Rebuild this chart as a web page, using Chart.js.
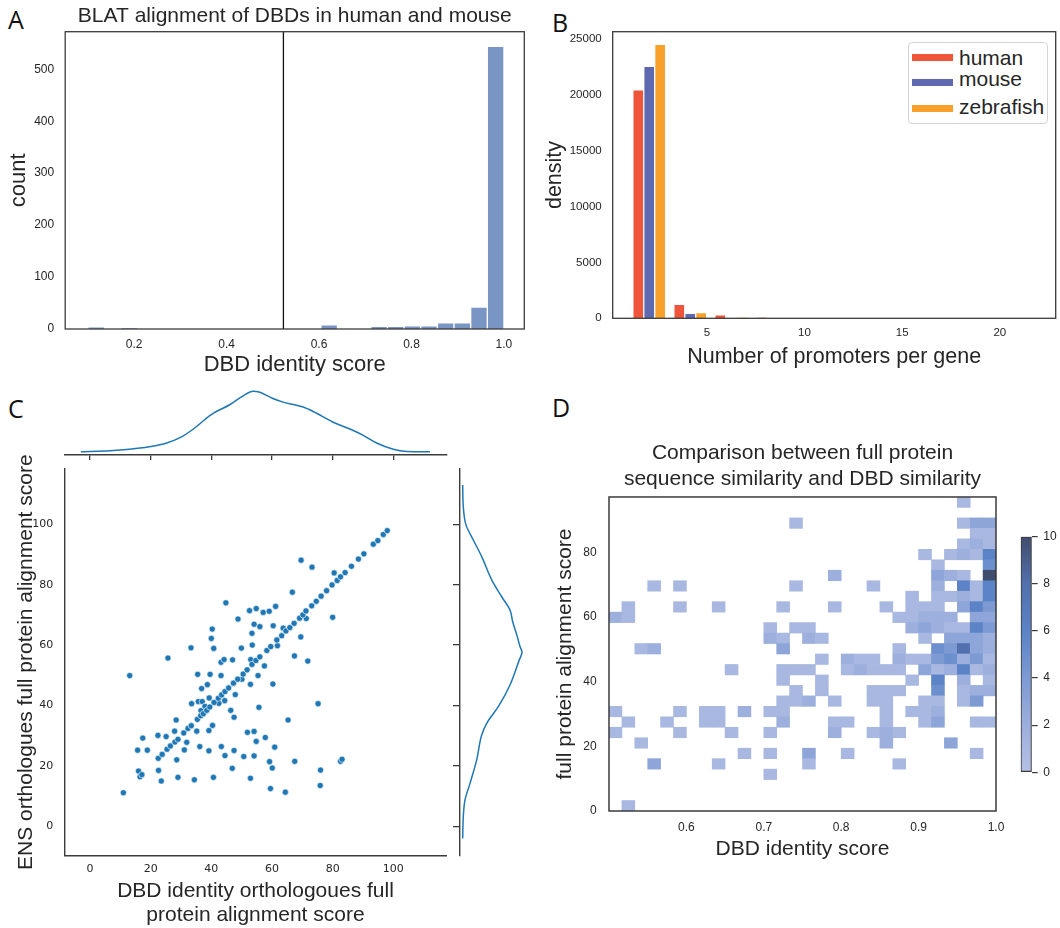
<!DOCTYPE html>
<html>
<head>
<meta charset="utf-8">
<script src="https://cdn.jsdelivr.net/npm/chart.js@4.4.1/dist/chart.umd.min.js"></script>
<style>
  body { margin: 0; background: #fff; }
  #page { position: relative; width: 1060px; height: 928px; overflow: hidden;
          font-family: 'Liberation Sans', Arial, sans-serif; color: #262626; }
  .box { position: absolute; }
  .letter { position: absolute; font-family: 'Open Sans', 'Noto Sans', sans-serif;
            font-size: 25px; line-height: 1; color: #111; }
  #legendB { position: absolute; left: 908px; top: 42px; width: 140px; height: 82px;
             border: 1px solid #d4d4d4; border-radius: 4px; background: #fff; box-sizing: border-box; }
  #legendB .handle { position: absolute; left: 3px; width: 41px; height: 7px; }
  #legendB .name { position: absolute; left: 50px; font-size: 21px; line-height: 21px; white-space: nowrap; }
</style>
</head>
<body>
<div id="page">
  <div class="letter" style="left:8px;top:7px">A</div>
  <div class="letter" style="left:552px;top:10px">B</div>
  <div class="letter" style="left:8px;top:396px">C</div>
  <div class="letter" style="left:552px;top:395px">D</div>

  <div class="box" style="left:0;top:0"><canvas id="chartA" width="540" height="385"></canvas></div>
  <div class="box" style="left:540px;top:0"><canvas id="chartB" width="520" height="385"></canvas></div>
  <div id="legendB"></div>

  <div class="box" style="left:0;top:380px"><canvas id="chartCtop" width="455" height="80"></canvas></div>
  <div class="box" style="left:0;top:436px"><canvas id="chartC" width="455" height="492"></canvas></div>
  <div class="box" style="left:453px;top:460px"><canvas id="chartCright" width="82" height="400"></canvas></div>

  <div class="box" style="left:540px;top:390px"><canvas id="chartD" width="470" height="480"></canvas></div>
  <div class="box" style="left:1010px;top:520px"><canvas id="chartDbar" width="50" height="270"></canvas></div>
</div>

<script>
// ---- A: BLAT identity histogram ----
const blatBinStart = 0.1;
const blatBinWidth = 0.036;
const blatCounts = [4, 0, 2, 0, 0, 0, 0, 0, 0, 0, 0, 0, 0, 0, 8, 0, 0, 5, 5, 6, 6, 12, 12, 42, 544];
const blatThreshold = 0.523;
const blatTicksX = [0.2, 0.4, 0.6, 0.8, 1.0];
const blatTicksY = [0, 100, 200, 300, 400, 500];

// ---- B: promoters per gene ----
const species = ['human', 'mouse', 'zebrafish'];
const promoterEdges = [1, 3.1, 5.2, 7.3, 9.4, 11.5, 13.6, 15.7, 17.8, 19.9, 22];
const promHuman = [20400, 1190, 240, 40, 10, 5, 3, 0, 0, 2];
const promMouse = [22500, 390, 30, 10, 5, 2, 0, 0, 0, 0];
const promZebrafish = [24460, 450, 40, 15, 5, 2, 0, 0, 0, 0];
const promTicksX = [5, 10, 15, 20];
const promTicksY = [0, 5000, 10000, 15000, 20000, 25000];

// ---- C: orthologue alignment scores ----
const orthoX = [11.0, 13.1, 15.7, 16.0, 17.4, 18.9, 22.4, 22.6, 23.5, 25.1, 25.7, 28.4, 27.9, 28.6, 29.0, 31.1,
  31.9, 33.3, 33.5, 34.4, 35.2, 35.5, 35.7, 36.2, 36.8, 37.0, 38.5, 38.7, 39.2, 39.2, 39.3, 39.6, 40.0, 40.3,
  40.4, 40.7, 40.8, 43.2, 43.2, 43.3, 44.2, 44.4, 44.5, 44.8, 46.4, 46.9, 47.0, 47.5, 47.5, 47.9, 48.8, 49.9,
  50.1, 50.7, 51.9, 52.6, 52.9, 52.9, 53.0, 53.4, 53.5, 54.1, 54.1, 54.1, 54.8, 54.8, 55.4, 55.7, 56.0, 57.1,
  57.5, 57.8, 59.1, 59.2, 59.5, 60.1, 60.3, 60.4, 60.9, 61.2, 61.8, 63.7, 64.4, 65.3, 66.7, 67.4, 67.5, 69.5,
  69.6, 71.3, 71.8, 73.2, 75.2, 76.0, 75.9, 80.0, 80.5, 82.6, 83.1, 36.6, 37.9, 42.5,
  16.5, 17.1, 22.5, 23.8, 25.4, 26.5, 28.0, 29.0, 30.9, 32.3, 33.4, 35.4, 36.5, 37.4, 38.5, 39.5, 40.9, 42.3,
  43.4, 44.5, 45.7, 47.3, 48.7, 50.5, 51.8, 53.4, 54.7, 56.0, 58.3, 59.6, 61.6, 63.2, 64.6, 65.9, 67.3, 69.1,
  70.2, 71.2, 73.1, 74.6, 76.2, 78.0, 79.8, 81.5, 82.6, 84.1, 86.2, 88.5, 90.3, 93.4, 94.9, 96.7, 98.0];
const orthoY = [11.1, 49.9, 25.2, 18.3, 29.2, 25.2, 30.1, 18.5, 15.0, 29.7, 55.7, 35.2, 31.5, 22.0, 16.2, 25.3,
  27.8, 59.1, 40.6, 15.4, 31.5, 50.3, 41.3, 26.4, 45.6, 41.3, 38.4, 46.9, 31.7, 25.0, 42.5, 50.3, 62.2, 65.3,
  33.4, 16.2, 58.9, 54.3, 49.9, 26.4, 55.2, 41.6, 23.4, 74.0, 38.4, 19.2, 55.1, 36.1, 25.1, 43.6, 68.6, 59.0,
  48.7, 23.1, 31.1, 71.4, 15.9, 47.0, 55.2, 63.9, 60.0, 66.9, 31.4, 23.3, 72.1, 28.1, 49.9, 39.4, 66.1, 70.8,
  53.1, 29.4, 71.2, 21.4, 12.5, 19.3, 47.1, 66.4, 26.2, 72.8, 59.8, 65.6, 11.3, 35.2, 77.5, 56.4, 21.5, 62.7,
  88.1, 68.8, 54.7, 85.8, 40.6, 18.6, 13.5, 69.2, 83.9, 21.5, 22.2, 38.3, 39.7, 40.7,
  16.4, 17.1, 22.5, 23.8, 25.5, 26.6, 27.9, 28.8, 30.9, 32.4, 33.3, 35.4, 36.6, 37.3, 38.4, 39.5, 41.0, 42.4,
  43.5, 44.6, 45.8, 47.4, 48.7, 50.4, 51.8, 53.6, 54.9, 56.1, 58.2, 59.5, 61.7, 63.1, 64.7, 65.8, 67.2, 68.9,
  70.0, 71.3, 73.0, 74.5, 76.2, 78.0, 79.9, 81.4, 82.6, 84.0, 86.1, 88.5, 90.2, 93.4, 94.6, 96.6, 97.9];
const orthoTicks = [0, 20, 40, 60, 80, 100];
// marginal densities (relative units)
const kdeTopX = [-3.0, 0, 9.9, 20.1, 25.3, 29.7, 34.1, 40.1, 46.2, 50.5, 53.8, 56.0, 60.1, 63.7, 67.0, 70.3,
  73.6, 80.0, 85.7, 90.1, 94.5, 100, 104.4, 112.1];
const kdeTopD = [0, 0.1, 1.7, 5.2, 8.7, 14, 22.7, 37.4, 47.2, 55.9, 60.5, 59.4, 53.5, 49.6, 47.2, 44.7,
  40.2, 29.7, 22.7, 16.4, 8.7, 2.4, 0.3, 0];
const kdeRightY = [-4.0, 3.2, 8.7, 14.2, 22.0, 30.2, 34.1, 39.6, 46.8, 55.1, 57.6, 59.5, 62.8, 67.7, 71.6,
  76.0, 81.6, 89.3, 94.8, 99.8, 105.8, 113.0];
const kdeRightD = [0, 0.6, 2.3, 7.3, 14, 19, 24, 35.6, 47.3, 56.6, 59.3, 57.3, 54.6, 50, 47.3,
  39, 29, 19, 10.6, 3.3, 0.6, 0];

// ---- D: 2D histogram, cells = [xBin, yBin, count] ----
const heatXMin = 0.5, heatXStep = 1 / 60;
const heatYMin = 0, heatYStep = 97.1 / 30;
const heatCells = [
  [14,27,1],[3,21,1],[5,21,1],[14,21,1],[1,19,1],[5,19,1],[8,19,1],[13,19,1],[0,18,2],[1,18,1],
  [12,17,1],[14,17,1],[12,16,2],[13,16,1],[2,15,1],[3,15,2],[13,15,3],[9,13,1],[13,13,1],[14,13,1],
  [13,12,1],[14,11,1],[13,10,1],[14,10,1],[0,9,1],[5,9,1],[7,9,1],[8,9,1],[10,9,2],[12,9,1],[13,9,1],
  [1,8,1],[4,8,1],[7,8,1],[8,8,1],[13,8,2],[0,7,1],[5,7,1],[9,7,1],[12,7,1],[2,6,1],[10,5,1],[12,5,1],
  [3,4,3],[8,4,1],[12,3,1],[1,0,1],
  [27,29,1],[27,27,1],[28,27,3],[29,27,3],[28,26,1],[29,26,1],[27,25,1],[28,25,2],[29,25,1],
  [24,24,1],[26,24,1],[27,24,2],[28,24,1],[29,24,6],[25,23,1],[29,23,5],
  [17,22,2],[25,22,3],[26,22,2],[27,22,1],[29,22,10],
  [20,21,1],[25,21,2],[27,21,6],[28,21,1],[29,21,6],
  [23,20,1],[25,20,1],[26,20,1],[27,20,2],[28,20,1],[29,20,6],
  [17,19,1],[21,19,1],[23,19,1],[24,19,1],[25,19,1],[27,19,3],[28,19,6],[29,19,4],
  [22,18,1],[23,18,1],[24,18,2],[25,18,2],[26,18,2],[28,18,3],[29,18,3],
  [15,17,1],[23,17,2],[24,17,3],[25,17,2],[26,17,1],[27,17,1],[28,17,6],[29,17,4],
  [15,16,2],[16,16,1],[24,16,1],[26,16,3],[27,16,3],[28,16,3],[29,16,2],
  [22,15,1],[25,15,5],[26,15,4],[27,15,8],[28,15,3],[29,15,2],
  [16,14,1],[18,14,2],[19,14,1],[20,14,1],[22,14,2],[23,14,1],[24,14,1],[25,14,4],[26,14,5],[27,14,2],[28,14,4],[29,14,1],
  [15,13,1],[18,13,1],[19,13,2],[20,13,1],[21,13,1],[22,13,1],[24,13,3],[25,13,1],[26,13,2],[27,13,6],[28,13,1],[29,13,2],
  [16,12,1],[23,12,1],[25,12,6],[27,12,2],[29,12,1],
  [16,11,1],[20,11,1],[21,11,1],[22,11,1],[25,11,5],[27,11,1],[28,11,2],[29,11,2],
  [15,10,2],[17,10,1],[20,10,1],[21,10,1],[24,10,1],[25,10,1],[27,10,1],[28,10,4],
  [21,9,1],[23,9,1],[24,9,1],[25,9,2],
  [17,8,1],[18,8,1],[21,8,1],[24,8,1],[25,8,3],[28,8,1],[29,8,1],
  [17,7,2],[20,7,1],[21,7,2],[22,7,1],[21,6,2],[26,6,3],
  [15,5,3],[18,5,1],[28,5,1],[15,4,1],[22,4,1]
];
const heatTicksX = [0.6, 0.7, 0.8, 0.9, 1.0];
const heatTicksY = [0, 20, 40, 60, 80];
const cbarTicks = [0, 2, 4, 6, 8, 10];

// ---- styles ----
const speciesColors = ['#ef553b', '#5f69b0', '#f9a02b'];
const heatStops = [[0, [181, 192, 229]], [2, [156, 175, 221]], [4, [125, 154, 211]],
                   [6, [91, 131, 198]], [8, [82, 112, 173]], [10, [65, 77, 108]]];
const spine = '#3b3b3b';

Chart.defaults.font.family = "'Liberation Sans', Arial, sans-serif";
Chart.defaults.color = '#262626';
Chart.defaults.animation = false;
Chart.defaults.plugins.legend.display = false;
Chart.defaults.plugins.tooltip.enabled = false;

const fixSize = (w, h) => s => {
  if (w != null) s.width = w;
  if (h != null) s.height = h;
  s.paddingLeft = s.paddingRight = s.paddingTop = s.paddingBottom = 0;
};
const setTicks = vals => s => { s.ticks = vals.map(v => ({ value: v })); };
const noGrid = { display: false, drawTicks: false, offset: false };

const framePlugin = {
  id: 'frame',
  afterDraw(chart, args, opts) {
    const { ctx, chartArea: a } = chart;
    ctx.save();
    ctx.strokeStyle = opts.color || spine;
    ctx.lineWidth = opts.width || 1.3;
    ctx.strokeRect(a.left, a.top, a.right - a.left, a.bottom - a.top);
    ctx.restore();
  }
};

const heatColor = n => {
  for (let i = 1; i < heatStops.length; i++) {
    if (n <= heatStops[i][0]) {
      const [v0, c0] = heatStops[i - 1], [v1, c1] = heatStops[i];
      const t = (n - v0) / (v1 - v0);
      const c = c0.map((x, k) => Math.round(x + (c1[k] - x) * t));
      return `rgb(${c[0]},${c[1]},${c[2]})`;
    }
  }
  const c = heatStops[heatStops.length - 1][1];
  return `rgb(${c[0]},${c[1]},${c[2]})`;
};

// ---------- A ----------
const blatYMax = 572.4;
new Chart(document.getElementById('chartA'), {
  type: 'bar',
  data: {
    datasets: [
      {
        data: blatCounts.map((c, i) => ({ x: blatBinStart + (i + 0.5) * blatBinWidth, y: c })),
        backgroundColor: 'rgba(76,114,176,0.75)',
        borderColor: '#ffffff',
        borderWidth: 1,
        categoryPercentage: 1,
        barPercentage: 1
      },
      {
        type: 'line',
        data: [{ x: blatThreshold, y: 0 }, { x: blatThreshold, y: blatYMax }],
        borderColor: '#111',
        borderWidth: 1.3,
        pointRadius: 0
      }
    ]
  },
  options: {
    responsive: false,
    layout: { padding: { left: 0, right: 15.7, top: 0, bottom: 0 } },
    plugins: {
      title: {
        display: true, text: 'BLAT alignment of DBDs in human and mouse', fullSize: false,
        color: '#262626', font: { size: 21, weight: 'normal' }, padding: { top: 4.1, bottom: 2.4 }
      },
      frame: { color: spine, width: 1.3 }
    },
    scales: {
      x: {
        type: 'linear', offset: false, min: 0.051, max: 1.044,
        grid: noGrid, border: { display: false },
        afterBuildTicks: setTicks(blatTicksX), afterFit: fixSize(null, 56),
        ticks: { padding: 8.8, font: { size: 12 }, callback: v => v.toFixed(1) },
        title: { display: true, text: 'DBD identity score', font: { size: 22 }, padding: { top: 0, bottom: 6.8 } }
      },
      y: {
        min: 0, max: blatYMax,
        grid: noGrid, border: { display: false },
        afterBuildTicks: setTicks(blatTicksY), afterFit: fixSize(65.2, null),
        ticks: { padding: 11, font: { size: 12 } },
        title: { display: true, text: 'count', font: { size: 22 }, padding: { top: 5.4, bottom: 0 } }
      }
    }
  },
  plugins: [framePlugin]
});

// ---------- B ----------
const promCenters = promoterEdges.slice(0, -1).map((e, i) => (e + promoterEdges[i + 1]) / 2);
const promSeries = [promHuman, promMouse, promZebrafish];
new Chart(document.getElementById('chartB'), {
  type: 'bar',
  data: {
    datasets: promSeries.map((vals, k) => ({
      label: species[k],
      data: vals.map((v, i) => ({ x: promCenters[i], y: v })),
      backgroundColor: speciesColors[k],
      borderWidth: 0,
      categoryPercentage: 0.8,
      barPercentage: 0.88
    }))
  },
  options: {
    responsive: false,
    layout: { padding: { left: 0, right: 4.3, top: 31.7, bottom: 0 } },
    plugins: { frame: { color: spine, width: 1.3 } },
    scales: {
      x: {
        type: 'linear', offset: false, min: 0.18, max: 22.86,
        grid: noGrid, border: { display: false },
        afterBuildTicks: setTicks(promTicksX), afterFit: fixSize(null, 66.7),
        ticks: { padding: 8.1, font: { size: 11.5 }, callback: v => String(v) },
        title: { display: true, text: 'Number of promoters per gene', font: { size: 21.5 }, padding: { top: 0, bottom: 15.1 } }
      },
      y: {
        min: 0, max: 25653,
        grid: noGrid, border: { display: false },
        afterBuildTicks: setTicks(promTicksY), afterFit: fixSize(72.7, null),
        ticks: { padding: 11, font: { size: 11.5 }, callback: v => String(v) },
        title: { display: true, text: 'density', font: { size: 21.5 }, padding: { top: 2.5, bottom: 0 } }
      }
    }
  },
  plugins: [framePlugin]
});

// legend for B
const legendTops = [{ line: 10.7, text: 3.5 }, { line: 36.4, text: 25.2 }, { line: 62, text: 52.9 }];
const legendB = document.getElementById('legendB');
species.forEach((name, k) => {
  const h = document.createElement('div');
  h.className = 'handle';
  h.style.top = legendTops[k].line + 'px';
  h.style.background = speciesColors[k];
  legendB.appendChild(h);
  const t = document.createElement('div');
  t.className = 'name';
  t.style.top = legendTops[k].text + 'px';
  t.textContent = name;
  legendB.appendChild(t);
});

// ---------- C ----------
const cXMin = -8.47, cXMax = 117.6, cYMin = -9.64, cYMax = 118.3;
const kdeColor = '#1f77b4';

new Chart(document.getElementById('chartC'), {
  type: 'scatter',
  data: {
    datasets: [{
      data: orthoX.map((x, i) => ({ x, y: orthoY[i] })),
      backgroundColor: '#1f77b4',
      borderColor: '#ffffff',
      borderWidth: 0.6,
      pointRadius: 3.1
    }]
  },
  options: {
    responsive: false,
    layout: { padding: { left: 0, right: 8.3, top: 33, bottom: 0 } },
    scales: {
      x: {
        type: 'linear', min: cXMin, max: cXMax,
        grid: noGrid, border: { display: true, color: spine, width: 1.4 },
        afterBuildTicks: setTicks(orthoTicks), afterFit: fixSize(null, 72.6),
        ticks: { padding: 7.3, font: { family: "'DejaVu Sans', sans-serif", size: 11 } },
        title: {
          display: true, text: ['DBD identity orthologoues full', 'protein alignment score'],
          font: { size: 21, lineHeight: 1.15 }, padding: { top: 0, bottom: 0.9 }
        }
      },
      y: {
        type: 'linear', min: cYMin, max: cYMax,
        grid: noGrid, border: { display: true, color: spine, width: 1.4 },
        afterBuildTicks: setTicks(orthoTicks), afterFit: fixSize(64.3, null),
        ticks: { padding: 11, font: { family: "'DejaVu Sans', sans-serif", size: 11 } },
        title: { display: true, text: 'ENS orthologues full protein alignment score', font: { size: 21 }, padding: { top: 14.1, bottom: 0 } }
      }
    }
  }
});

new Chart(document.getElementById('chartCtop'), {
  type: 'line',
  data: {
    datasets: [{
      data: kdeTopX.map((x, i) => ({ x, y: kdeTopD[i] })),
      borderColor: kdeColor, borderWidth: 1.5, pointRadius: 0, cubicInterpolationMode: 'monotone'
    }]
  },
  options: {
    responsive: false,
    layout: { padding: { left: 64.3, right: 8.3, top: 5, bottom: 0 } },
    scales: {
      x: {
        type: 'linear', min: cXMin, max: cXMax,
        afterBuildTicks: setTicks(orthoTicks), afterFit: fixSize(null, 5.6),
        grid: { drawOnChartArea: false, drawTicks: true, tickLength: 6, color: spine, lineWidth: 1.3 },
        border: { display: true, color: spine, width: 1.4 },
        ticks: { display: false }
      },
      y: { type: 'linear', display: false, min: -2.7, max: 66.7 }
    }
  }
});

new Chart(document.getElementById('chartCright'), {
  type: 'line',
  data: {
    datasets: [{
      data: kdeRightY.map((y, i) => ({ x: kdeRightD[i], y })),
      borderColor: kdeColor, borderWidth: 1.5, pointRadius: 0, cubicInterpolationMode: 'monotone'
    }]
  },
  options: {
    responsive: false,
    indexAxis: 'y',
    layout: { padding: { left: 0, right: 5, top: 9, bottom: 4.6 } },
    scales: {
      x: { type: 'linear', display: false, min: -2.7, max: 67.3 },
      y: {
        type: 'linear', position: 'left', min: cYMin, max: cYMax,
        afterBuildTicks: setTicks(orthoTicks), afterFit: fixSize(7, null),
        grid: { drawOnChartArea: false, drawTicks: true, tickLength: 7, color: spine, lineWidth: 1.3 },
        border: { display: true, color: spine, width: 1.4 },
        ticks: { display: false }
      }
    }
  }
});

// ---------- D ----------
const heatData = heatCells.map(([c, r, n]) => ({
  x: heatXMin + (c + 0.5) * heatXStep,
  y: [heatYMin + r * heatYStep, heatYMin + (r + 1) * heatYStep],
  n
}));
new Chart(document.getElementById('chartD'), {
  type: 'bar',
  data: {
    datasets: [{
      data: heatData,
      backgroundColor: ctx => heatColor(ctx.raw ? ctx.raw.n : 0),
      borderWidth: 0,
      categoryPercentage: 1,
      barPercentage: 1
    }]
  },
  options: {
    responsive: false,
    layout: { padding: { left: 0, right: 14, top: 0, bottom: 0 } },
    plugins: {
      title: {
        display: true, fullSize: false,
        text: ['Comparison between full protein', 'sequence similarity and DBD similarity'],
        color: '#262626', font: { size: 21, weight: 'normal', lineHeight: 1.24 },
        padding: { top: 50.3, bottom: 4.6 }
      },
      frame: { color: spine, width: 1.5 }
    },
    scales: {
      x: {
        type: 'linear', offset: false, min: heatXMin, max: 1.0,
        grid: noGrid, border: { display: false },
        afterBuildTicks: setTicks(heatTicksX), afterFit: fixSize(null, 59),
        ticks: { padding: 9.1, font: { size: 12 }, callback: v => v.toFixed(1) },
        title: { display: true, text: 'DBD identity score', font: { size: 21 }, padding: { top: 0, bottom: 8.4 } }
      },
      y: {
        type: 'linear', min: heatYMin, max: heatYMin + 30 * heatYStep,
        grid: noGrid, border: { display: false },
        afterBuildTicks: setTicks(heatTicksY), afterFit: fixSize(69, null),
        ticks: { padding: 12.4, font: { size: 12 } },
        title: { display: true, text: 'full protein alignment score', font: { size: 21 }, padding: { top: 12.9, bottom: 0 } }
      }
    }
  },
  plugins: [framePlugin]
});

// colour bar
new Chart(document.getElementById('chartDbar'), {
  type: 'bar',
  data: {
    labels: [''],
    datasets: [{
      data: [[cbarTicks[0], cbarTicks[cbarTicks.length - 1]]],
      backgroundColor: ctx => {
        const a = ctx.chart.chartArea;
        if (!a) return heatColor(0);
        const g = ctx.chart.ctx.createLinearGradient(0, a.bottom, 0, a.top);
        heatStops.forEach(([v]) => g.addColorStop(v / 10, heatColor(v)));
        return g;
      },
      borderColor: spine,
      borderWidth: 1.3,
      borderSkipped: false,
      categoryPercentage: 1,
      barPercentage: 1
    }]
  },
  options: {
    responsive: false,
    layout: { padding: { left: 10.7, right: 0, top: 16.7, bottom: 17.7 } },
    scales: {
      x: { display: false },
      y: {
        position: 'right', min: 0, max: 10,
        afterBuildTicks: setTicks(cbarTicks), afterFit: fixSize(28.3, null),
        grid: { drawOnChartArea: false, drawTicks: true, tickLength: 6, color: spine, lineWidth: 1.2 },
        border: { display: false },
        ticks: { padding: 5.6, font: { size: 12 } }
      }
    }
  }
});
</script>
</body>
</html>
